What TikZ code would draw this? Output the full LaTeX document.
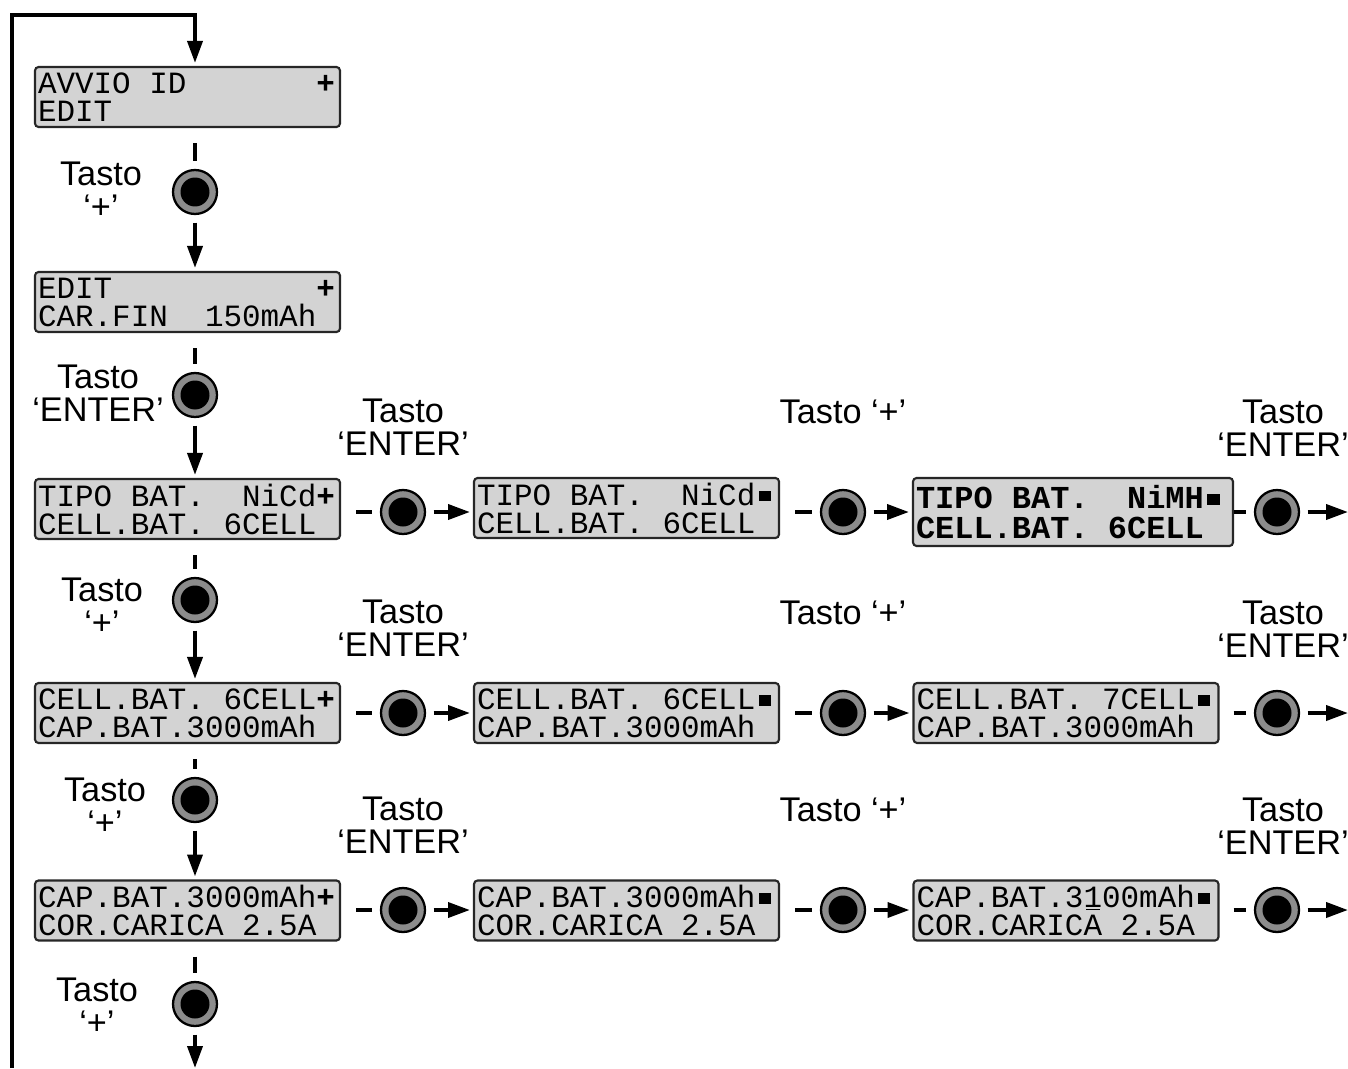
\documentclass[tikz,border=0pt]{standalone}
\usepackage{fontspec}
\setmainfont{Liberation Sans}
\newfontfamily\lcdfont{Liberation Mono}
\usetikzlibrary{positioning, arrows.meta}
\definecolor{lcdgray}{HTML}{D3D3D3}
\definecolor{keygray}{HTML}{8C8C8C}
\newcommand{\lcdplus}{\textbf{+}}
\newcommand{\lcdsq}{\makebox[0.6em][c]{\rule[0.12em]{0.38em}{0.34em}}}
\newcommand{\ls}{\hspace*{0.6em}}
\newcommand{\lcdcur}[1]{\rlap{\hspace*{0.08em}\rule[-0.09em]{0.44em}{0.06em}}#1}
\frenchspacing

\tikzset{
  lcd/.style={draw=black!85, fill=lcdgray, rounded corners=2pt, line width=1.2pt,
    text width=5.98cm, inner xsep=0.06cm, inner ysep=0pt, minimum height=1.2cm,
    align=left, font={\lcdfont\fontsize{17.6}{15.9}\selectfont}},
  lcdbold/.style={lcd, text width=6.28cm, minimum height=1.36cm,
    font={\lcdfont\bfseries\fontsize{18.2}{16.8}\selectfont}},
  key/.style={circle, draw=black, line width=1.3pt, fill=keygray, minimum size=0.88cm,
    inner sep=0pt, path picture={\fill[black] (path picture bounding box.center) circle (0.29cm);}},
  lbl/.style={align=center, inner sep=0pt, font={\fontsize{19.5}{18.5}\selectfont}},
  tick/.style={line width=2.2pt, shorten <=0.3cm, shorten >=0.16cm},
  flow/.style={line width=2.2pt, shorten <=0.15cm, shorten >=0.06cm,
    -{Triangle[length=12.5pt, width=8.5pt]}},
}

\begin{document}
\begin{tikzpicture}[x=0.02cm, y=-0.02cm]
  \useasboundingbox (0,0) rectangle (1348,1068);

  % menu column
  \node[lcd] (avvio) at (187.5,97) {AVVIO\ls ID\ls\ls\ls\ls\ls\ls\ls\lcdplus\\EDIT};
  \node[lcd] (edit) at (187.5,302) {EDIT\ls\ls\ls\ls\ls\ls\ls\ls\ls\ls\ls\lcdplus\\CAR.FIN\ls\ls 150mAh};
  \node[lcd] (tipo) at (187.5,509) {TIPO\ls BAT.\ls\ls NiCd\lcdplus\\CELL.BAT.\ls 6CELL};
  \node[lcd] (cell) at (187.5,713) {CELL.BAT.\ls 6CELL\lcdplus\\CAP.BAT.3000mAh};
  \node[lcd] (cap) at (187.5,910.5) {CAP.BAT.3000mAh\lcdplus\\COR.CARICA\ls 2.5A};

  \node[key] (avvio-k) at (195,192) {};
  \node[key] (edit-k) at (195,395) {};
  \node[key] (tipo-k) at (195,600) {};
  \node[key] (cell-k) at (195,800) {};
  \node[key] (cap-k) at (195,1004) {};

  \node[lbl] (avvio-l) at (101,190) {Tasto\\‘+’};
  \node[lbl] (edit-l) at (98,393) {Tasto\\‘ENTER’};
  \node[lbl] (tipo-l) at (102,606) {Tasto\\‘+’};
  \node[lbl] (cell-l) at (105,806) {Tasto\\‘+’};
  \node[lbl] (cap-l) at (97,1006) {Tasto\\‘+’};

  % edited values
  \node[lcd] (tipo-sel) at (626.5,508) {TIPO\ls BAT.\ls\ls NiCd\lcdsq\\CELL.BAT.\ls 6CELL};
  \node[lcd] (cell-sel) at (626.5,713) {CELL.BAT.\ls 6CELL\lcdsq\\CAP.BAT.3000mAh};
  \node[lcd] (cap-sel) at (626.5,910.5) {CAP.BAT.3000mAh\lcdsq\\COR.CARICA\ls 2.5A};
  \node[lcdbold] (tipo-new) at (1073,512) {TIPO\ls BAT.\ls\ls NiMH\lcdsq\\CELL.BAT.\ls 6CELL};
  \node[lcd] (cell-new) at (1066,713) {CELL.BAT.\ls 7CELL\lcdsq\\CAP.BAT.3000mAh};
  \node[lcd] (cap-new) at (1066,910.5) {CAP.BAT.3\lcdcur{1}00mAh\lcdsq\\COR.CARICA\ls 2.5A};

  % loop back to the start
  \coordinate (loop-s) at (12,1068);
  \coordinate (loop-t) at (195,15);
  \coordinate (cap-out) at (195,1068);
  \draw[line width=2.2pt, -{Triangle[length=12.5pt, width=8.5pt]}, shorten >=0.06cm]
    (loop-s) |- (loop-t) -- (avvio.north -| loop-t);

  \foreach \a/\b in {avvio/edit, edit/tipo, tipo/cell, cell/cap} {
    \draw[tick] (\a.south -| \a-k) -- (\a-k.north);
    \draw[flow] (\a-k.south) -- (\b.north -| \a-k);
  }
  \draw[tick] (cap.south -| cap-k) -- (cap-k.north);
  \draw[flow, shorten >=0pt] (cap-k.south) -- (cap-out);

  \foreach \r/\y/\s in {tipo/512/0, cell/713/0.28, cap/910/0.28} {
    \node[key] (\r-k1) at (403,\y) {};
    \node[key] (\r-k2) at (843,\y) {};
    \node[key] (\r-k3) at (1277,\y) {};
    \coordinate (\r-out) at (1348,\y);
    \node[lbl] (\r-l1) at (403,{\y-85}) {Tasto\\‘ENTER’};
    \node[lbl] (\r-l2) at (843,{\y-100}) {Tasto ‘+’};
    \node[lbl] (\r-l3) at (1283,{\y-84}) {Tasto\\‘ENTER’};
    \draw[tick] (\r.east |- \r-k1) -- (\r-k1.west);
    \draw[flow] (\r-k1.east) -- (\r-sel.west |- \r-k1);
    \draw[tick] (\r-sel.east |- \r-k2) -- (\r-k2.west);
    \draw[flow] (\r-k2.east) -- (\r-new.west |- \r-k2);
    \draw[tick, shorten <=\s cm] (\r-new.east |- \r-k3) -- (\r-k3.west);
    \draw[flow, shorten >=0pt] (\r-k3.east) -- (\r-out);
  }
\end{tikzpicture}
\end{document}
